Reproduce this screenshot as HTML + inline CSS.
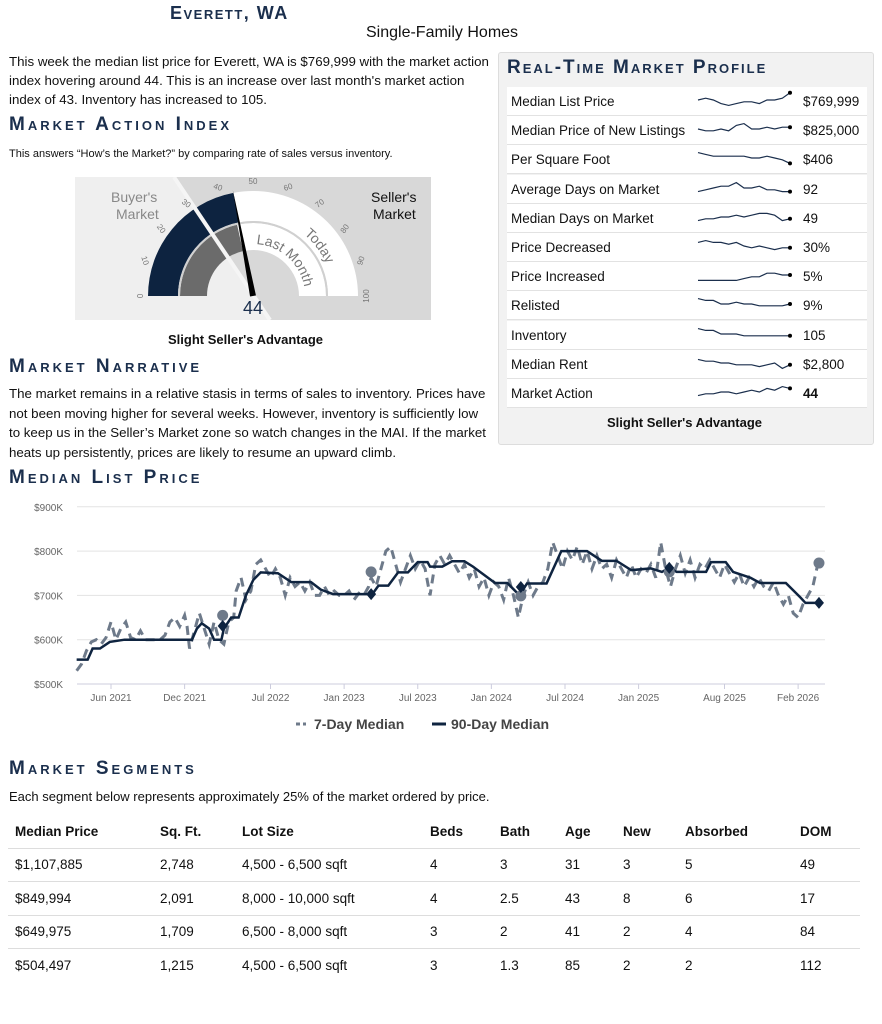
<!DOCTYPE html>
<html><head><meta charset="utf-8">
<style>
body{margin:0;width:882px;height:1024px;background:#fff;font-family:"Liberation Sans",sans-serif;color:#111;position:relative;overflow:hidden}
.abs{position:absolute}
.h{font-variant:small-caps;font-weight:bold;color:#1b2f4d;letter-spacing:3px;font-size:19px}
p{margin:0}
.row{position:absolute;left:507px;width:360px;height:28px;background:#fff;border-bottom:1px solid #e2e2e2;font-size:13.5px}
.row .l{position:absolute;left:4px;top:7px}
.row .v{position:absolute;left:296px;top:7px}
.row svg{position:absolute;left:188px;top:2px}
table{border-collapse:collapse;font-size:13.5px}
td,th{text-align:left;padding:0;height:32.5px;border-bottom:1px solid #ddd}
</style></head><body>
<div class="abs h" style="left:170px;top:3px;font-size:18px;letter-spacing:1.5px">Everett, WA</div>
<div class="abs" style="left:366px;top:24px;font-size:16px">Single-Family Homes</div>
<p class="abs" style="left:9px;top:52px;width:486px;font-size:13.3px;line-height:19px">This week the median list price for Everett, WA is $769,999 with the market action index hovering around 44. This is an increase over last month's market action index of 43. Inventory has increased to 105.</p>
<div class="abs h" style="left:9px;top:114px">Market Action Index</div>
<div class="abs" style="left:9px;top:148px;font-size:11px">This answers “How’s the Market?” by comparing rate of sales versus inventory.</div>

<svg class="abs" style="left:75px;top:177px" width="356" height="143">
<polygon points="0,0 99,0 195,143 0,143" fill="#efefef"/>
<polygon points="99,0 356,0 356,143 195,143" fill="#d8d8d8"/>
<g id="gz"></g>
<text x="36" y="25" font-size="14" fill="#888">Buyer's</text>
<text x="41" y="42" font-size="14" fill="#888">Market</text>
<text x="296" y="25" font-size="14" fill="#111">Seller's</text>
<text x="298" y="42" font-size="14" fill="#111">Market</text>
<text x="178" y="137" font-size="18" fill="#1b2f4d" text-anchor="middle">44</text>
</svg>
<div class="abs" style="left:168px;top:332px;font-size:13px;font-weight:bold">Slight Seller's Advantage</div>

<div class="abs h" style="left:9px;top:356px">Market Narrative</div>
<p class="abs" style="left:9px;top:384px;width:479px;font-size:13.3px;line-height:19.5px">The market remains in a relative stasis in terms of sales to inventory. Prices have not been moving higher for several weeks. However, inventory is sufficiently low to keep us in the Seller’s Market zone so watch changes in the MAI. If the market heats up persistently, prices are likely to resume an upward climb.</p>

<div class="abs" style="left:498px;top:52px;width:374px;height:391px;background:#f2f2f2;border:1px solid #ddd;border-radius:3px"></div>
<div class="abs h" style="left:507px;top:57px;letter-spacing:2px">Real-Time Market Profile</div>
<div id="rows"></div>
<div class="abs" style="left:607px;top:415px;font-size:13px;font-weight:bold">Slight Seller's Advantage</div>

<div class="abs h" style="left:9px;top:467px">Median List Price</div>
<svg class="abs" id="chart" style="left:0;top:495px" width="882" height="250"></svg>

<div class="abs h" style="left:9px;top:758px">Market Segments</div>
<div class="abs" style="left:9px;top:789px;font-size:13px">Each segment below represents approximately 25% of the market ordered by price.</div>
<table class="abs" style="left:8px;top:815px;width:852px">
<colgroup><col style="width:152px"><col style="width:82px"><col style="width:188px"><col style="width:70px"><col style="width:65px"><col style="width:58px"><col style="width:62px"><col style="width:115px"><col></colgroup>
<tr style="font-weight:bold"><th style="padding-left:7px">Median Price</th><th>Sq. Ft.</th><th>Lot Size</th><th>Beds</th><th>Bath</th><th>Age</th><th>New</th><th>Absorbed</th><th>DOM</th></tr>
<tr><td style="padding-left:7px">$1,107,885</td><td>2,748</td><td>4,500 - 6,500 sqft</td><td>4</td><td>3</td><td>31</td><td>3</td><td>5</td><td>49</td></tr>
<tr><td style="padding-left:7px">$849,994</td><td>2,091</td><td>8,000 - 10,000 sqft</td><td>4</td><td>2.5</td><td>43</td><td>8</td><td>6</td><td>17</td></tr>
<tr><td style="padding-left:7px">$649,975</td><td>1,709</td><td>6,500 - 8,000 sqft</td><td>3</td><td>2</td><td>41</td><td>2</td><td>4</td><td>84</td></tr>
<tr><td style="padding-left:7px;border-bottom:none">$504,497</td><td style="border-bottom:none">1,215</td><td style="border-bottom:none">4,500 - 6,500 sqft</td><td style="border-bottom:none">3</td><td style="border-bottom:none">1.3</td><td style="border-bottom:none">85</td><td style="border-bottom:none">2</td><td style="border-bottom:none">2</td><td style="border-bottom:none">112</td></tr>
</table>

<script>
const NS="http://www.w3.org/2000/svg";
function mk(t,a,p){const e=document.createElementNS(NS,t);for(const k in a)e.setAttribute(k,a[k]);if(p)p.appendChild(e);return e;}

// ---- gauge ----
const gaugeToday=44, gaugeLast=43;
const gaugeTicks=[0,10,20,30,40,50,60,70,80,90,100];
(function(){
 const g=document.getElementById('gz');const cx=178,cy=119;
 const ang=v=>Math.PI*(1-v/100);
 const pt=(r,v)=>[cx+r*Math.cos(ang(v)),cy-r*Math.sin(ang(v))];
 function ring(r0,r1,a,b,fill,name){const p0=pt(r1,a),p1=pt(r1,b),p2=pt(r0,b),p3=pt(r0,a);
  const e=mk('path',{d:`M${p0}A${r1},${r1} 0 0 1 ${p1}L${p2}A${r0},${r0} 0 0 0 ${p3}Z`,fill:fill},g);
  }
 ring(75,105,0,100,'#fff','today-ring-bg');
 ring(46,73,0,100,'#fff','last-month-ring-bg');
 ring(75,105,0,gaugeToday,'#0d2340','today-ring');
 ring(46,73,0,gaugeLast,'#6b6b6b','last-month-ring');
 mk('path',{d:`M${pt(74,0)}A74,74 0 0 1 ${pt(74,100)}`,fill:'none',stroke:'#d0d0d0','stroke-width':2},g);
 mk('line',{x1:99,y1:0,x2:195,y2:143,stroke:'#f5f5f5','stroke-width':4},g);
 gaugeTicks.forEach(v=>{const [x,y]=pt(114,v);const t=mk('text',{x:x,y:y,'font-size':8,fill:'#777','text-anchor':'middle','dominant-baseline':'middle',transform:`rotate(${90-v*1.8} ${x} ${y})`},g);t.textContent=v;
  });
 mk('path',{id:'lmp',d:`M${pt(52,52)}A52,52 0 0 1 ${pt(52,100)}`,fill:'none'},g);
 mk('path',{id:'tdp',d:`M${pt(80,72)}A80,80 0 0 1 ${pt(80,100)}`,fill:'none'},g);
 const t1=mk('text',{'font-size':14,fill:'#777'},g);const tp1=mk('textPath',{href:'#lmp'},t1);tp1.textContent='Last Month';
 const t2=mk('text',{'font-size':14,fill:'#777'},g);const tp2=mk('textPath',{href:'#tdp'},t2);tp2.textContent='Today';
 const [nx,ny]=pt(108,gaugeToday);const a=ang(gaugeToday),px=Math.sin(a)*3,py=Math.cos(a)*3;
 const nd=mk('polygon',{points:`${nx},${ny} ${cx+px},${cy+py} ${cx-px},${cy-py}`,fill:'#000'},g);
 
})();

// ---- profile rows ----
const rowLabels=["Median List Price","Median Price of New Listings","Per Square Foot","Average Days on Market","Median Days on Market","Price Decreased","Price Increased","Relisted","Inventory","Median Rent","Market Action"];
const rowValues=["$769,999","$825,000","$406","92","49","30%","5%","9%","105","$2,800","44"];
const rowSparks=[
[5,6,5,3,2,3,4,4,3,5,5,6,9],[5,4,4,5,4,7,8,5,5,6,5,6,6],[8,7,6,6,6,6,6,5,5,6,5,4,2],[3,4,5,6,6,8,5,5,6,4,4,3,3],[3,4,4,5,5,6,5,6,7,7,6,3,4],[7,8,7,7,6,7,5,4,5,4,3,4,4],[2,2,2,2,2,2,3,4,4,6,6,5,5],[8,7,7,5,5,6,5,5,4,4,4,4,5],[8,7,7,5,5,5,4,4,4,4,4,4,4],[7,6,6,5,5,4,4,4,3,4,5,2,4],[3,4,4,5,5,4,5,6,5,7,6,8,7]];
(function(){
 const c=document.getElementById('rows');
 rowLabels.forEach((l,i)=>{const d=document.createElement('div');d.className='row';d.style.top=(87+i*29.2)+'px';
  
  
  d.innerHTML=`<span class="l">${l}</span><span class="v" style="${i==10?'font-weight:bold':''}">${rowValues[i]}</span>`;
  const s=mk('svg',{width:100,height:24});
  const vals=rowSparks[i];const xs=j=>3+j*(92/(vals.length-1)),ys=v=>20-v*1.8;
  mk('polyline',{points:vals.map((v,j)=>xs(j)+','+ys(v)).join(' '),fill:'none',stroke:'#1b2f4d','stroke-width':1.2},s);
  mk('circle',{cx:xs(vals.length-1),cy:ys(vals[vals.length-1]),r:2,fill:'#000'},s);
  d.appendChild(s);c.appendChild(d);});
})();

// ---- median list price chart ----
// months are offsets from Jun 2021
const yTicks=[500,600,700,800,900];
const xTickLabels=["Jun 2021","Dec 2021","Jul 2022","Jan 2023","Jul 2023","Jan 2024","Jul 2024","Jan 2025","Aug 2025","Feb 2026"];
const xTickMonths=[0,6,13,19,25,31,37,43,50,56];
const m90=[-2.8,-1.9,-1.5,-0.9,-0.1,1.1,6.6,7.0,7.4,8.0,8.4,9.0,9.2,9.8,10.4,11.0,11.6,12.2,13.6,14.7,16.3,17.1,18.1,21.3,21.8,22.6,23.4,24.2,25.0,25.8,26.0,27.0,27.8,28.8,29.5,31.3,32.3,33.3,33.9,35.5,36.7,38.8,40.0,41.2,42.4,44.0,44.9,45.5,46.1,48.5,48.9,50.1,50.7,52.1,52.9,55.0,56.2,56.6,57.6];
const v90=[555,555,580,580,595,600,600,625,637,625,600,600,625,650,650,700,735,752,750,730,730,713,703,703,722,722,752,752,775,775,765,765,777,777,765,728,728,700,727,727,800,800,778,778,757,761,753,762,753,753,775,775,753,740,728,728,695,683,683];
const m7=[-2.8,-2.4,-2.0,-1.6,-1.2,-0.8,-0.4,0,0.4,0.8,1.2,1.6,2.0,2.4,2.8,3.2,3.6,4.0,4.4,4.8,5.2,5.6,6.0,6.2,6.4,6.8,7.2,7.6,8.0,8.4,8.8,9.2,9.6,10.0,10.2,10.6,11.0,11.4,11.8,12.2,12.6,13.0,13.4,13.8,14.2,14.6,15.0,15.4,15.8,16.2,16.6,17.0,17.4,17.8,18.2,18.6,19.0,19.4,19.8,20.2,20.6,21.0,21.2,21.6,22.0,22.4,22.8,23.2,23.6,24.0,24.4,24.8,25.2,25.6,26.0,26.4,26.8,27.2,27.6,28.0,28.4,28.8,29.2,29.6,30.0,30.4,30.8,31.2,31.6,32.0,32.4,32.8,33.2,33.6,34.0,34.4,34.8,35.2,35.6,36.0,36.4,36.8,37.2,37.6,38.0,38.4,38.8,39.2,39.6,40.0,40.4,40.8,41.2,41.6,42.0,42.4,42.8,43.2,43.6,44.0,44.4,44.8,45.2,45.6,46.0,46.4,46.8,47.2,47.6,48.0,48.4,48.8,49.2,49.6,50.0,50.4,50.8,51.2,51.6,52.0,52.4,52.8,53.2,53.6,54.0,54.4,54.8,55.2,55.6,56.0,56.4,56.8,57.2,57.6];
const v7=[530,545,575,595,600,590,605,640,600,625,640,605,600,620,600,600,600,600,610,640,650,630,655,630,580,620,660,625,590,640,600,590,640,650,710,740,690,710,770,780,760,740,760,740,700,740,720,730,710,730,700,700,720,700,710,700,700,710,690,705,700,720,740,720,760,800,810,770,730,760,790,760,780,760,700,770,790,770,790,770,750,770,740,760,720,740,700,730,720,690,740,700,650,700,730,700,720,730,760,820,790,760,800,780,810,770,800,760,790,760,770,740,780,760,740,770,740,760,750,770,740,820,760,720,760,790,750,780,740,770,760,780,760,740,770,750,730,750,720,740,720,740,720,710,730,700,680,700,660,650,680,700,720,770];
const circM=[9.1,21.2,33.4,45.5,57.7], circV=[655,753,699,753,773];
const diaM=[9.1,21.2,33.4,45.5,57.7], diaV=[631,703,719,762,683];
(function(){
 const s=document.getElementById('chart');
 const X=m=>111+m*12.27, Y=v=>189-(v-500)*0.443;
 yTicks.forEach(v=>{const l=mk('line',{x1:77,x2:825,y1:Y(v),y2:Y(v),stroke:'#e3e3e3'},s);
  const t=mk('text',{x:63,y:Y(v)+4,'font-size':10,fill:'#666','text-anchor':'end'},s);t.textContent='$'+v+'K';});
 mk('line',{x1:77,x2:825,y1:Y(500),y2:Y(500),stroke:'#ccd'},s);
 xTickLabels.forEach((l,i)=>{const x=X(xTickMonths[i]);mk('line',{x1:x,x2:x,y1:Y(500),y2:Y(500)+5,stroke:'#ccd'},s);
  const t=mk('text',{x:x,y:Y(500)+17,'font-size':10,fill:'#666','text-anchor':'middle'},s);t.textContent=l;});
 const l7=mk('polyline',{points:m7.map((m,i)=>X(m)+','+Y(v7[i])).join(' '),fill:'none',stroke:'#6e7a8a','stroke-width':3,'stroke-dasharray':'9,6'},s);
 
 const l9=mk('polyline',{points:m90.map((m,i)=>X(m)+','+Y(v90[i])).join(' '),fill:'none',stroke:'#0f2440','stroke-width':2.5},s);
 
 circM.forEach((m,i)=>{const c=mk('circle',{cx:X(m),cy:Y(circV[i]),r:5.5,fill:'#6e7a8a'},s);});
 diaM.forEach((m,i)=>{const x=X(m),y=Y(diaV[i]);const d=mk('polygon',{points:`${x},${y-6} ${x+5},${y} ${x},${y+6} ${x-5},${y}`,fill:'#0f2440'},s);});
 const lg=mk('g',{},s);
 mk('line',{x1:296,x2:306,y1:229,y2:229,stroke:'#6e7a8a','stroke-width':3,'stroke-dasharray':'4,3'},lg);
 const a=mk('text',{x:314,y:234,'font-size':14,'font-weight':'bold',fill:'#444'},lg);a.textContent='7-Day Median';
 mk('line',{x1:432,x2:446,y1:229,y2:229,stroke:'#0f2440','stroke-width':3},lg);
 const b=mk('text',{x:451,y:234,'font-size':14,'font-weight':'bold',fill:'#444'},lg);b.textContent='90-Day Median';
})();
</script>
</body></html>
